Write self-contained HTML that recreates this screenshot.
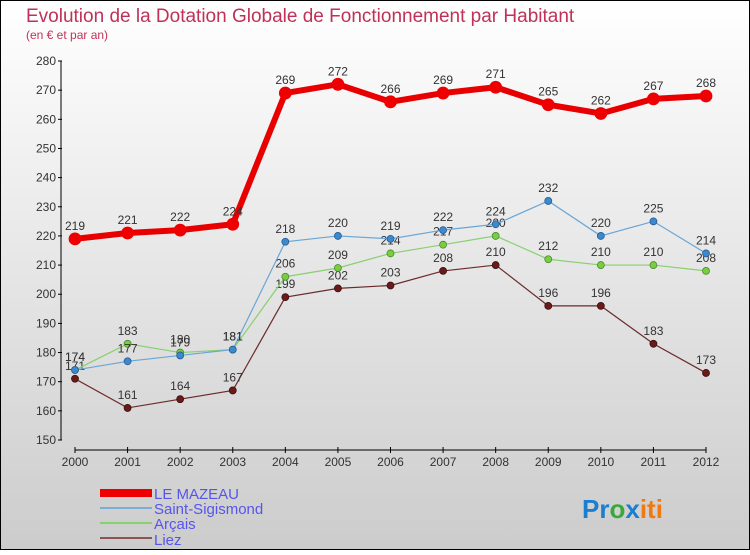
<!DOCTYPE html>
<html><head><meta charset="utf-8"><style>
html,body{margin:0;padding:0}
body{width:750px;height:550px;overflow:hidden;font-family:"Liberation Sans",sans-serif}
</style></head><body>
<svg id="c" width="750" height="550" xmlns="http://www.w3.org/2000/svg">
<defs><linearGradient id="bg" x1="0" y1="0" x2="0" y2="1"><stop offset="0" stop-color="#ffffff"/><stop offset="1" stop-color="#cccccc"/></linearGradient></defs>
<rect x="0.5" y="0.5" width="749" height="549" fill="url(#bg)" stroke="#000"/>
<text x="26" y="22" font-size="19" fill="#c0315a">Evolution de la Dotation Globale de Fonctionnement par Habitant</text>
<text x="26" y="39" font-size="12" fill="#c0315a">(en € et par an)</text>
<g id="axes"></g><g id="series"></g>
<g>
<rect x="100" y="489" width="52" height="8" fill="#e00"/>
<text x="154" y="499" font-size="15" fill="#5555ee">LE MAZEAU</text>
<rect x="100" y="507" width="52" height="2" fill="#7aaed6"/>
<text x="154" y="514" font-size="15" fill="#5555ee">Saint-Sigismond</text>
<rect x="100" y="522" width="52" height="2" fill="#88d070"/>
<text x="154" y="529" font-size="15" fill="#5555ee">Arçais</text>
<rect x="100" y="537" width="52" height="2" fill="#8b5555"/>
<text x="154" y="545" font-size="15" fill="#5555ee">Liez</text>
</g>
<text x="582" y="518" font-size="26" font-weight="bold"><tspan fill="#1a7fd0">Pr</tspan><tspan fill="#3aa83a">o</tspan><tspan fill="#1a7fd0">x</tspan><tspan fill="#f07a10">iti</tspan></text>
</svg>
<script>
const years=["2000","2001","2002","2003","2004","2005","2006","2007","2008","2009","2010","2011","2012"];
const yTicks=[150,160,170,180,190,200,210,220,230,240,250,260,270,280];
const mazeau=[219,221,222,224,269,272,266,269,271,265,262,267,268];
const sigismond=[174,177,179,181,218,220,219,222,224,232,220,225,214];
const arcais=[174,183,180,181,206,209,214,217,220,212,210,210,208];
const liez=[171,161,164,167,199,202,203,208,210,196,196,183,173];
const NS="http://www.w3.org/2000/svg";
const X=i=>75+i*(706-75)/(years.length-1);
const Y=v=>440-(v-150)*(440-61)/130;
function mk(t,a,p){const e=document.createElementNS(NS,t);for(const k in a)e.setAttribute(k,a[k]);p.appendChild(e);return e;}
const ax=document.getElementById('axes');
mk('line',{x1:61,y1:61,x2:61,y2:440,stroke:'#000'},ax);
mk('line',{x1:75,y1:450,x2:706,y2:450,stroke:'#000'},ax);
yTicks.forEach(v=>{
 mk('line',{x1:58,y1:Y(v),x2:62,y2:Y(v),stroke:'#000'},ax);
 const t=mk('text',{x:56,y:Y(v)+4,'font-size':12,fill:'#333','text-anchor':'end'},ax);
 
 
 t.textContent=v;
});
years.forEach((y,i)=>{
 mk('line',{x1:X(i),y1:447,x2:X(i),y2:453,stroke:'#000'},ax);
 const t=mk('text',{x:X(i),y:466,'font-size':12,fill:'#333','text-anchor':'middle'},ax);
 
 
 t.textContent=y;
});
const sg=document.getElementById('series');
function draw(arr,color,w,r,name,lc,dot){
 const g=mk('g',{},sg);
 
 
 mk('polyline',{points:arr.map((v,i)=>X(i)+','+Y(v)).join(' '),fill:'none',stroke:color,'stroke-width':w},g);
 arr.forEach((v,i)=>{
  const c=mk('circle',{cx:X(i),cy:Y(v),r:r,fill:dot,stroke:lc,'stroke-width':0.8},g);
  
  
  const t=mk('text',{x:X(i),y:Y(v)-9,'font-size':12,fill:'#333','text-anchor':'middle'},g);
  
  
  t.textContent=v;
 });
}
draw(liez,'#6b2a2a',1.2,3.5,'liez','#3a1010','#6b1a1a');
draw(arcais,'#88d070',1.2,3.5,'arcais','#4a8a30','#7acc40');
draw(sigismond,'#6aa6d6',1.2,3.5,'saint-sigismond','#2a5a90','#3a8ad0');
draw(mazeau,'#e80000',6,6,'le-mazeau','#e00','#e00');
</script>
</body></html>
